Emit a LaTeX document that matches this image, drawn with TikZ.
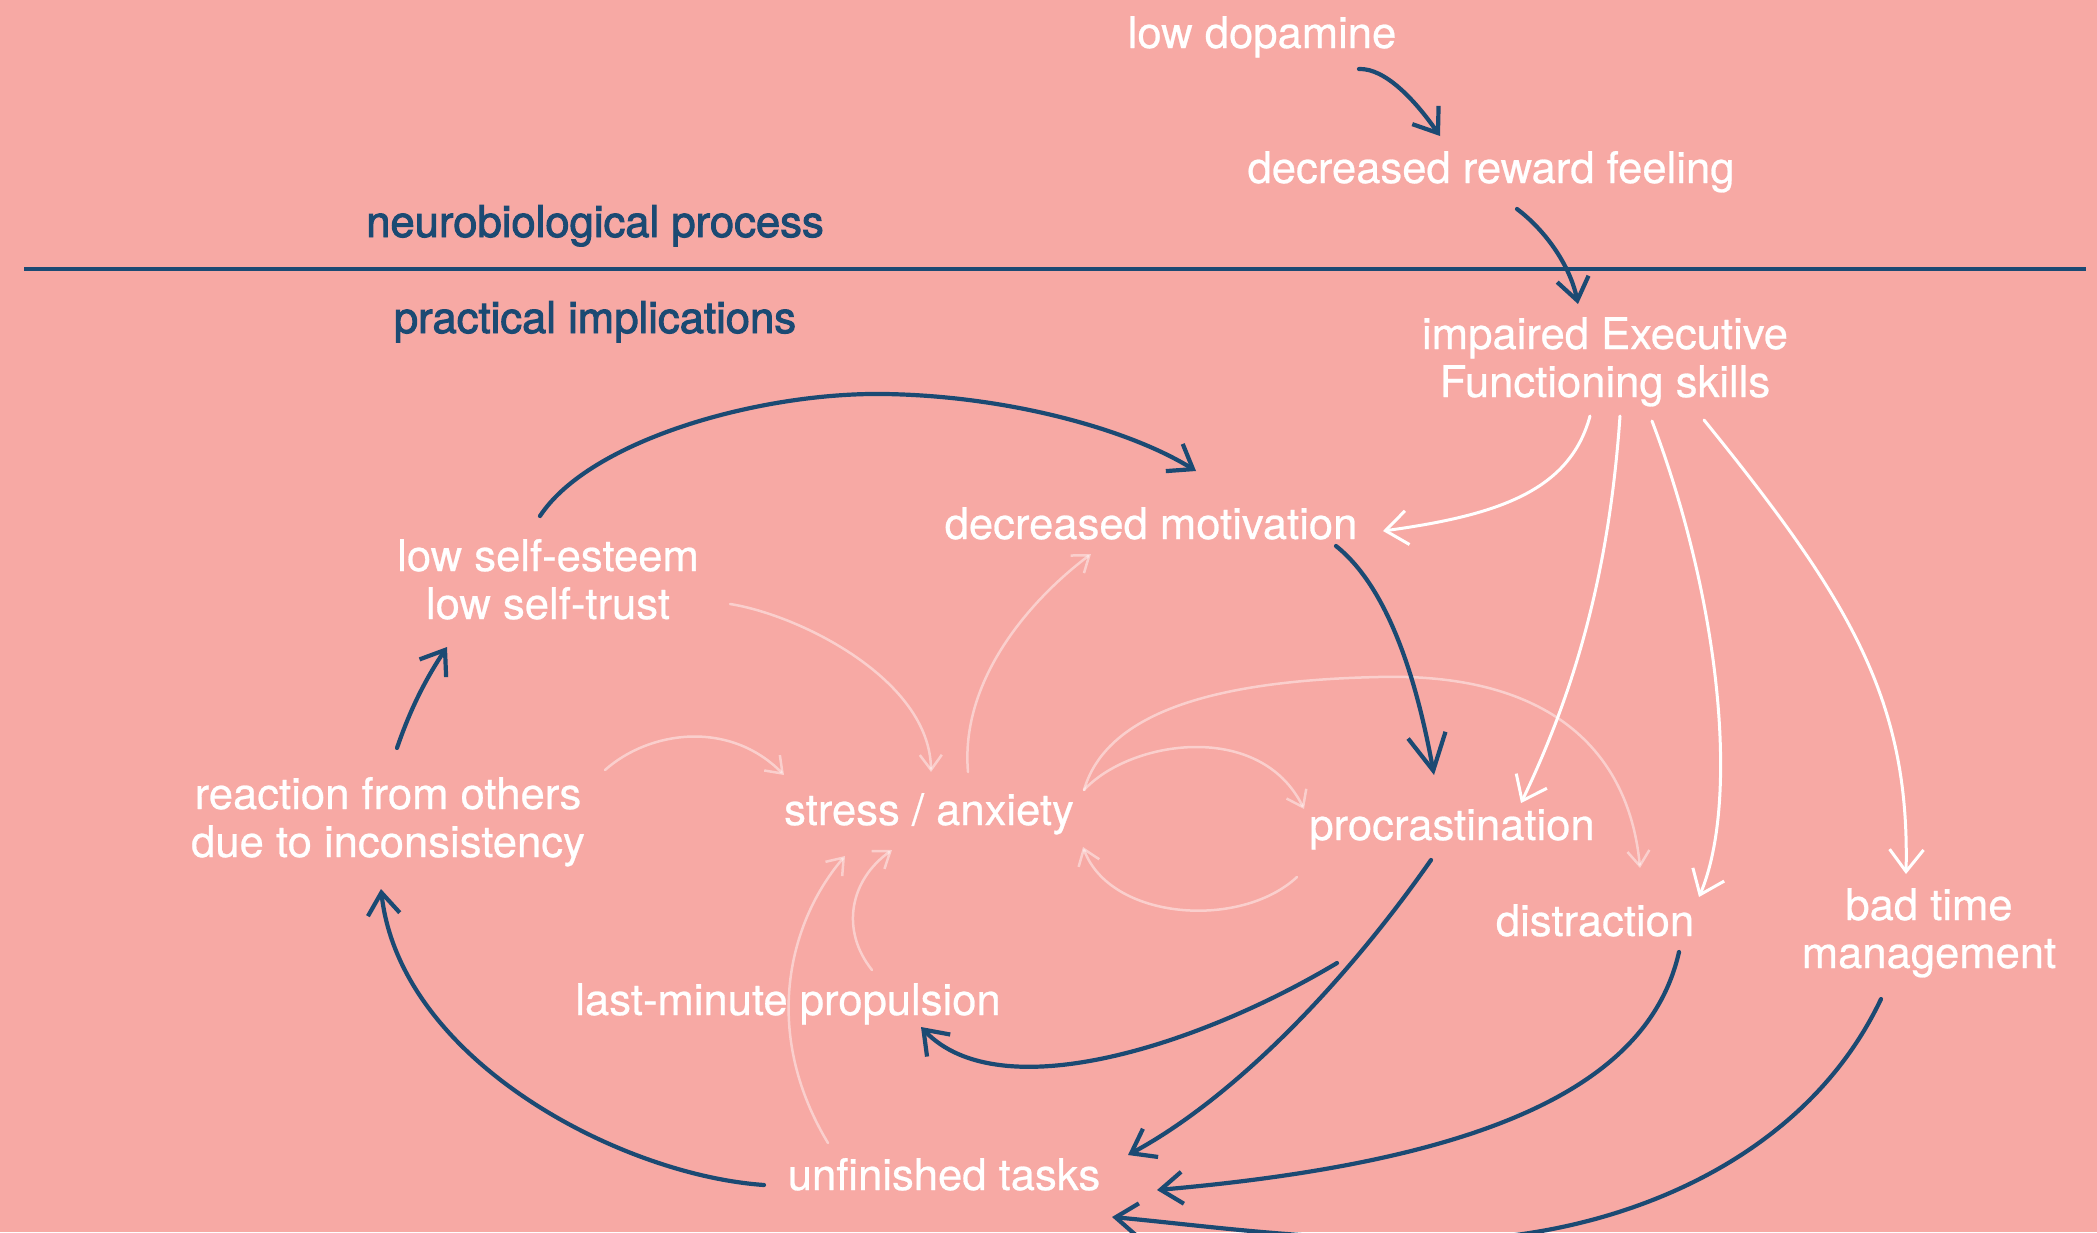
\documentclass[tikz,border=0pt]{standalone}
\usepackage{fontspec}
\setmainfont{TeX Gyre Heros}[FakeBold=0.6]
\newfontfamily\semib{TeX Gyre Heros}[FakeBold=2.2]
\usetikzlibrary{arrows.meta}
\definecolor{bgpink}{RGB}{247,169,164}
\definecolor{navy}{RGB}{27,74,115}
\tikzset{
  lbl/.style={text=white, font=\fontsize{43.6}{48}\selectfont, inner sep=0pt, align=center, anchor=base},
  hdr/.style={text=navy, font=\semib\fontsize{43.6}{48}\selectfont, inner sep=0pt, anchor=base},
  navyarr/.style={draw=navy, line width=4.2pt, line cap=round, -{Straight Barb[length=22pt,width=32pt]}},
  bignavyarr/.style={draw=navy, line width=4.2pt, line cap=round, -{Straight Barb[length=36pt,width=38pt]}},
  whitearr/.style={draw=white, line width=3pt, line cap=round, -{Straight Barb[length=22pt,width=34pt]}},
  fadearr/.style={draw=white, draw opacity=0.45, line width=2.5pt, line cap=round, -{Straight Barb[length=15pt,width=22pt]}},
}
\begin{document}
\begin{tikzpicture}[x=1pt,y=-1pt]
\useasboundingbox (0,0) rectangle (2097,1232);
\fill[bgpink] (0,0) rectangle (2097,1232);

% divider
\coordinate (divL) at (24,269);
\coordinate (divR) at (2086,269);
\draw[navy, line width=3.5pt] (divL) -- (divR);

% labels (multi-line nodes: base = last line)
\node[lbl] (ldop) at (1262,48) {low dopamine};
\node[lbl] (drf) at (1491,183) {decreased reward feeling};
\node[hdr] (neuro) at (595,237) {neurobiological process};
\node[hdr] (pract) at (595,333) {practical implications};
\node[lbl] (ef) at (1605,397) {impaired Executive\\Functioning skills};
\node[lbl] (dmot) at (1151,539) {decreased motivation};
\node[lbl] (lse) at (548,619) {low self-esteem\\low self-trust};
\node[lbl] (rfo) at (388,857) {reaction from others\\due to inconsistency};
\node[lbl] (stress) at (929,825) {stress / anxiety};
\node[lbl] (procr) at (1452,840) {procrastination};
\node[lbl] (distr) at (1595,936) {distraction};
\node[lbl] (btm) at (1929,968) {bad time\\management};
\node[lbl] (lmp) at (788,1015) {last-minute propulsion};
\node[lbl] (unf) at (944,1190) {unfinished tasks};

% endpoint coordinates
\coordinate (ldop-o) at (1359,69);
\coordinate (drf-i) at (1440,136);
\coordinate (drf-o) at (1517,209);
\coordinate (ef-i) at (1578,304);
\coordinate (lse-o) at (540,516);
\coordinate (dmot-i) at (1196,471);
\coordinate (dmot-o) at (1336,546);
\coordinate (procr-i) at (1434,775);
\coordinate (procr-o1) at (1431,860);
\coordinate (unf-i1) at (1128,1155);
\coordinate (procr-o2) at (1337,963);
\coordinate (lmp-i) at (921,1027);
\coordinate (distr-o) at (1679,952);
\coordinate (unf-i2) at (1157,1190);
\coordinate (btm-o) at (1881,999);
\coordinate (unf-i3) at (1112,1217);
\coordinate (unf-o) at (764,1185);
\coordinate (rfo-i) at (381,889);
\coordinate (rfo-o) at (397,748);
\coordinate (lse-i) at (447,647);
% white
\coordinate (ef-o1) at (1590,416);
\coordinate (dmot-i2) at (1383,531);
\coordinate (ef-o2) at (1620,416);
\coordinate (procr-i2) at (1521,803);
\coordinate (ef-o3) at (1652,421);
\coordinate (distr-i) at (1699,897);
\coordinate (ef-o4) at (1704,420);
\coordinate (btm-i) at (1906,874);
% faded
\coordinate (lse-o2) at (730,604);
\coordinate (stress-i1) at (931,772);
\coordinate (rfo-o2) at (605,770);
\coordinate (stress-i2) at (784,775);
\coordinate (stress-o1) at (968,772);
\coordinate (dmot-i3) at (1091,554);
\coordinate (stress-o2) at (1084,790);
\coordinate (procr-i3) at (1304,809);
\coordinate (distr-i2) at (1640,868);
\coordinate (procr-o3) at (1297,877);
\coordinate (stress-i3) at (1083,847);
\coordinate (lmp-o) at (872,970);
\coordinate (stress-i4) at (892,850);
\coordinate (unf-o2) at (828,1143);
\coordinate (stress-i5) at (845,856);

% faded connectors
\draw[fadearr] (lse-o2) .. controls (800,615) and (930,680) .. (stress-i1);
\draw[fadearr] (rfo-o2) .. controls (650,730) and (730,720) .. (stress-i2);
\draw[fadearr] (stress-o1) .. controls (960,680) and (1030,600) .. (dmot-i3);
\draw[fadearr] (stress-o2) .. controls (1130,740) and (1260,720) .. (procr-i3);
\draw[fadearr] (stress-o2) .. controls (1110,700) and (1250,680) .. (1378,677) .. controls (1560,672) and (1630,760) .. (distr-i2);
\draw[fadearr] (procr-o3) .. controls (1240,930) and (1110,920) .. (stress-i3);
\draw[fadearr] (lmp-o) .. controls (840,930) and (850,880) .. (stress-i4);
\draw[fadearr] (unf-o2) .. controls (760,1030) and (790,920) .. (stress-i5);

% white connectors
\draw[whitearr] (ef-o1) .. controls (1570,490) and (1500,515) .. (dmot-i2);
\draw[whitearr] (ef-o2) .. controls (1610,560) and (1580,680) .. (procr-i2);
\draw[whitearr] (ef-o3) .. controls (1720,600) and (1740,800) .. (distr-i);
\draw[whitearr] (ef-o4) .. controls (1850,600) and (1910,700) .. (btm-i);

% navy connectors
\draw[navyarr] (ldop-o) .. controls (1385,68) and (1415,100) .. (drf-i);
\draw[navyarr] (drf-o) .. controls (1545,230) and (1570,265) .. (ef-i);
\draw[navyarr] (lse-o) .. controls (590,440) and (760,392) .. (885,394) .. controls (1010,396) and (1130,430) .. (dmot-i);
\draw[bignavyarr] (dmot-o) .. controls (1385,585) and (1415,670) .. (procr-i);
\draw[navyarr] (procr-o1) .. controls (1340,990) and (1230,1100) .. (unf-i1);
\draw[navyarr] (procr-o2) .. controls (1200,1045) and (1000,1110) .. (lmp-i);
\draw[navyarr] (distr-o) .. controls (1650,1080) and (1500,1160) .. (unf-i2);
\draw[navyarr] (btm-o) .. controls (1800,1170) and (1600,1240) .. (1440,1240) .. controls (1300,1240) and (1200,1225) .. (unf-i3);
\draw[navyarr] (unf-o) .. controls (620,1175) and (400,1060) .. (rfo-i);
\draw[navyarr] (rfo-o) .. controls (410,710) and (425,680) .. (lse-i);
\end{tikzpicture}
\end{document}
